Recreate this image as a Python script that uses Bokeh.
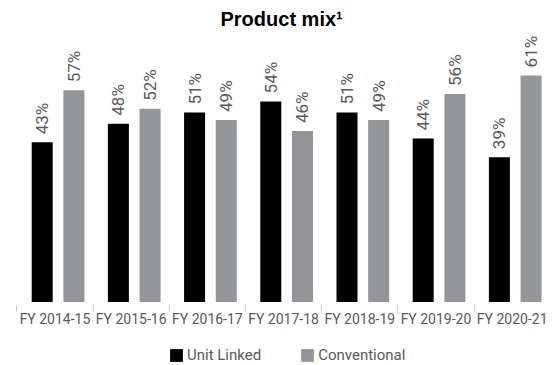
from bokeh.plotting import figure
from bokeh.models import (ColumnDataSource, Range1d, FixedTicker, Legend, LegendItem, Title)
from bokeh.transform import dodge
from bokeh.core.properties import value
from bokeh.embed import file_html
from bokeh.resources import INLINE
import math

# Product mix by financial year (% of total)
years = ["FY 2014-15", "FY 2015-16", "FY 2016-17", "FY 2017-18",
         "FY 2018-19", "FY 2019-20", "FY 2020-21"]
unit_linked = [43, 48, 51, 54, 51, 44, 39]
conventional = [57, 52, 49, 46, 49, 56, 61]

BLACK = "#000000"
GREY = "#939598"
TEXT = "#58595b"
FONT = "Roboto"

idx = list(range(len(years)))
src = ColumnDataSource(dict(
    idx=idx,
    ul=unit_linked,
    cv=conventional,
    ul_txt=[f"{v}%" for v in unit_linked],
    cv_txt=[f"{v}%" for v in conventional],
))

# the frame runs to the bottom edge; the category axis sits at y = 0
p = figure(width=552, height=365, output_backend="svg", toolbar_location=None,
           x_range=Range1d(-0.715, 6.529), y_range=Range1d(-17.07, 72),
           y_axis_location=None, min_border_left=0, min_border_right=0,
           min_border_top=0, min_border_bottom=0)
p.title = Title(text="Product mix\u00b9", align="left", offset=220,
                text_font="Liberation Sans", text_font_style="bold",
                text_font_size="20px", text_color="#000000")
p.outline_line_color = None
p.grid.visible = False
p.background_fill_color = "white"
p.border_fill_color = "white"

w = 0.2756
ul_r = p.vbar(x=dodge("idx", -0.168, range=p.x_range), top="ul", bottom=0, width=w,
              source=src, fill_color=BLACK, line_color=None)
cv_r = p.vbar(x=dodge("idx", 0.248, range=p.x_range), top="cv", bottom=0, width=w,
              source=src, fill_color=GREY, line_color=None)

# rotated value labels above each bar
for col, off in (("ul", -0.168), ("cv", 0.248)):
    p.text(x=dodge("idx", off, range=p.x_range), y=col, text=col + "_txt",
           source=src, angle=math.pi / 2, text_align="left",
           text_baseline="middle", y_offset=-8,
           text_font=value(FONT), text_font_size="17px", text_color=TEXT)

ax = p.xaxis[0]
ax.fixed_location = 0
ax.ticker = FixedTicker(ticks=idx, minor_ticks=[i - 0.5 for i in idx])
ax.major_label_overrides = {i: y for i, y in zip(idx, years)}
ax.axis_line_color = None
ax.major_tick_line_color = None
ax.major_tick_out = 0
ax.major_tick_in = 0
ax.minor_tick_line_color = "#c8c8c8"
ax.minor_tick_in = -3
ax.minor_tick_out = 9
ax.major_label_standoff = 0
ax.major_label_text_font = FONT
ax.major_label_text_font_size = "14px"
ax.major_label_text_color = TEXT

legend = Legend(items=[LegendItem(label="Unit Linked", renderers=[ul_r]),
                       LegendItem(label="Conventional", renderers=[cv_r])],
                orientation="horizontal", location=(168, 1),
                glyph_width=16, glyph_height=16, label_standoff=3,
                spacing=38, padding=0, margin=0,
                label_text_font=FONT, label_text_font_size="15px",
                label_text_color=TEXT, border_line_color=None,
                background_fill_alpha=0)
p.add_layout(legend, "center")

open("out.html", "w").write(file_html(p, INLINE))
